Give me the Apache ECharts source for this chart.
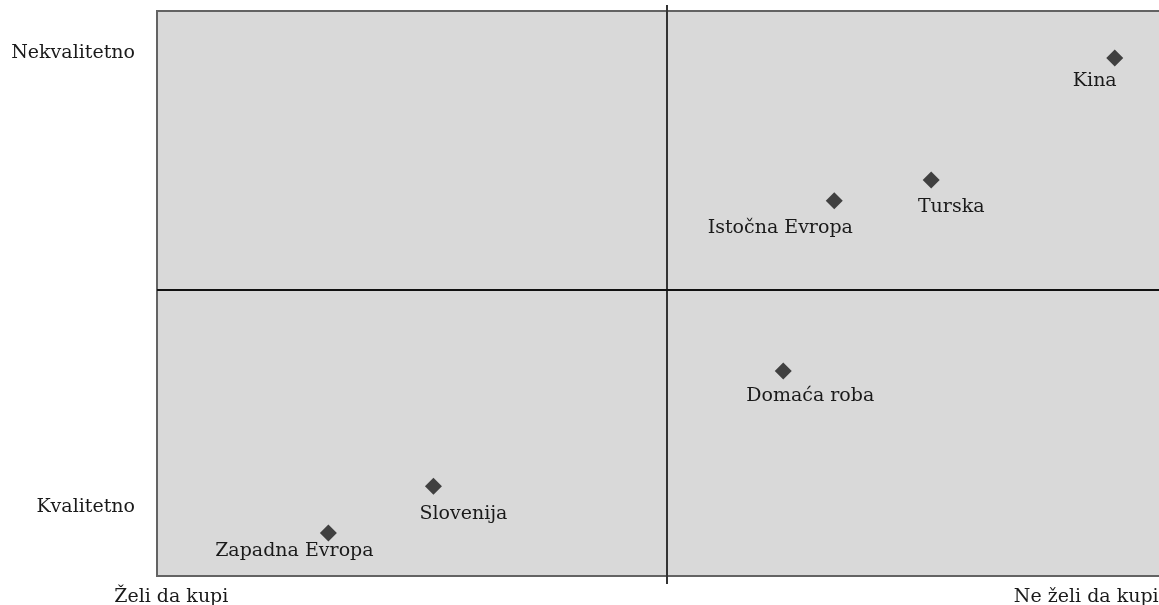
<!DOCTYPE html>
<html>
<head>
<meta charset="utf-8">
<title>Položaj robe</title>
<script src="https://cdn.jsdelivr.net/npm/echarts@6/dist/echarts.min.js"></script>
<style>
  html, body { margin: 0; padding: 0; background: #fff; }
  #main { width: 1159px; height: 605px; }
</style>
</head>
<body>
<div id="main"></div>
<script>
// data
var names = ['Kina', 'Turska', 'Istočna Evropa', 'Domaća roba', 'Slovenija', 'Zapadna Evropa'];
var xValues = [9.39, 7.59, 6.64, 6.14, 2.71, 1.68];
var yValues = [9.17, 7.01, 6.64, 3.63, 1.59, 0.76];
var xTickValues = [0.14, 9.11];
var xTickLabels = ['Želi da kupi', 'Ne želi da kupi'];
var yTickValues = [1.22, 9.26];
var yTickLabels = ['Kvalitetno', 'Nekvalitetno'];
var xMid = 5;
var yMid = 5.06;

// where each label sits relative to its point (style only)
var labelOffsets = [[-20, 23], [20, 27], [-54, 27], [27, 25], [30, 28], [-34, 18]];

var font = '"DejaVu Serif", serif';
var myChart = echarts.init(document.getElementById('main'));

var points = names.map(function (n, i) {
    return {
        name: n,
        value: [xValues[i], yValues[i]],
        label: { offset: labelOffsets[i] }
    };
});

var option = {
    animation: false,
    backgroundColor: '#fff',
    grid: {
        left: 157, top: 11, width: 1020, height: 565,
        outerBoundsMode: 'none',
        containLabel: false,
        show: true,
        backgroundColor: '#d9d9d9',
        borderColor: '#636363',
        borderWidth: 2
    },
    xAxis: [{
        type: 'value', min: 0, max: 10, position: 'bottom',
        axisLine: { show: false },
        splitLine: { show: false },
        axisTick: { show: true, customValues: [xMid], length: 8, lineStyle: { color: '#333', width: 2 } },
        axisLabel: {
            customValues: xTickValues,
            margin: 12,
            hideOverlap: false,
            color: '#1a1a1a', fontFamily: font, fontSize: 19,
            formatter: function (v) { return xTickLabels[xTickValues.indexOf(v)]; }
        }
    }, {
        type: 'value', min: 0, max: 10, position: 'top',
        axisLine: { show: false },
        splitLine: { show: false },
        axisTick: { show: true, customValues: [xMid], length: 6, lineStyle: { color: '#333', width: 2 } },
        axisLabel: { show: false }
    }],
    yAxis: {
        type: 'value', min: 0, max: 10,
        axisLine: { show: false },
        axisTick: { show: false },
        splitLine: { show: false },
        axisLabel: {
            customValues: yTickValues,
            margin: 22,
            color: '#1a1a1a', fontFamily: font, fontSize: 19,
            formatter: function (v) { return yTickLabels[yTickValues.indexOf(v)]; }
        }
    },
    series: [{
        type: 'scatter',
        symbol: 'diamond',
        symbolSize: 17,
        itemStyle: { color: '#404040', opacity: 1 },
        label: {
            show: true,
            position: 'inside',
            formatter: '{b}',
            color: '#1a1a1a', fontFamily: font, fontSize: 19
        },
        emphasis: { disabled: true },
        markLine: {
            silent: true,
            symbol: 'none',
            label: { show: false },
            data: [
                { xAxis: xMid, lineStyle: { color: '#333', width: 2, type: 'solid' } },
                { yAxis: yMid, lineStyle: { color: '#111', width: 2, type: 'solid' } }
            ]
        },
        data: points
    }]
};
myChart.setOption(option);
</script>
</body>
</html>
